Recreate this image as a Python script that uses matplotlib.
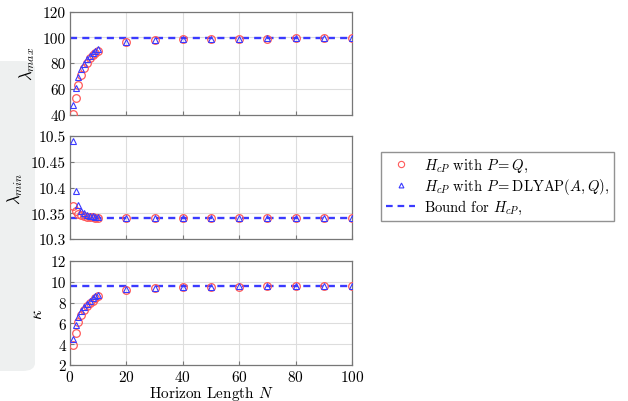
"""Eigenvalue bounds of H_cP vs horizon length N (three stacked panels)."""

import matplotlib
matplotlib.use("Agg")
import matplotlib.pyplot as plt
import matplotlib.patches as mpatches
from matplotlib.lines import Line2D
from matplotlib.ticker import FormatStrFormatter

plt.rcParams["font.family"] = "serif"
plt.rcParams["font.serif"] = ["cmr10", "DejaVu Serif"]
plt.rcParams["mathtext.fontset"] = "cm"
plt.rcParams["axes.formatter.use_mathtext"] = True

# -------------------------------------------------------------------
# Data
# -------------------------------------------------------------------
N = [1, 2, 3, 4, 5, 6, 7, 8, 9, 10, 20, 30, 40, 50, 60, 70, 80, 90, 100]
N_BOUND = [0, 100]

lmax_q = [40.5, 53, 63, 70.5, 76, 80, 83.5, 86, 88, 89.5,
          96, 97.6, 98.3, 98.6, 98.8, 99.0, 99.1, 99.2, 99.3]
lmax_dlyap = [47, 60.5, 69, 75, 79.5, 83, 85.5, 87.5, 89, 90.5,
              96.6, 98.0, 98.6, 98.9, 99.0, 99.1, 99.2, 99.3, 99.3]
lmax_bound = [99.5, 99.5]

lmin_q = [10.365, 10.355, 10.349, 10.346, 10.344, 10.343, 10.342, 10.342, 10.341, 10.341,
          10.3405, 10.3403, 10.3402, 10.3402, 10.3401, 10.3401, 10.3401, 10.3401, 10.3401]
lmin_dlyap = [10.490, 10.393, 10.366, 10.355, 10.350, 10.347, 10.345, 10.344, 10.343, 10.343,
              10.3410, 10.3405, 10.3403, 10.3402, 10.3402, 10.3401, 10.3401, 10.3401, 10.3401]
lmin_bound = [10.34, 10.34]

kappa_q = [3.9, 5.1, 6.1, 6.8, 7.3, 7.7, 8.0, 8.2, 8.45, 8.6,
           9.25, 9.4, 9.47, 9.5, 9.53, 9.55, 9.56, 9.57, 9.57]
kappa_dlyap = [4.5, 5.8, 6.6, 7.2, 7.6, 7.9, 8.15, 8.4, 8.6, 8.75,
               9.32, 9.45, 9.5, 9.53, 9.55, 9.56, 9.57, 9.58, 9.58]
kappa_bound = [9.6, 9.6]

PANELS = [
    (lmax_q, lmax_dlyap, lmax_bound, r"$\lambda_{max}$", (40, 120), [40, 60, 80, 100, 120]),
    (lmin_q, lmin_dlyap, lmin_bound, r"$\lambda_{min}$", (10.3, 10.5),
     [10.3, 10.35, 10.4, 10.45, 10.5]),
    (kappa_q, kappa_dlyap, kappa_bound, r"$\kappa$", (2, 12), [2, 4, 6, 8, 10, 12]),
]
X_TICKS = [0, 20, 40, 60, 80, 100]

RED = "#ff5a5a"
BLUE = "#3a3aff"
GRID = "#dddddd"
SPINE = "#777777"

W, H = 628, 402
# axes boxes in pixels: (top, bottom)
ROWS = [(12.5, 115.5), (137, 240), (262, 366)]
LEFT, RIGHT = 70, 352


def main():
    fig = plt.figure(figsize=(W / 100, H / 100), dpi=100)

    # light grey panel on the left edge (screenshot backdrop)
    band = mpatches.FancyBboxPatch(
        (-20 / W, 1 - 372 / H), 55 / W, 310 / H,
        boxstyle="round,pad=0,rounding_size=0.02",
        transform=fig.transFigure, facecolor="#eef0f0", edgecolor="none", zorder=-5)
    fig.patches.append(band)

    for i, (yq, yd, yb, ylabel, ylim, yticks) in enumerate(PANELS):
        top, bot = ROWS[i]
        ax = fig.add_axes([LEFT / W, 1 - bot / H, (RIGHT - LEFT) / W, (bot - top) / H])
        ax.grid(True, color=GRID, linewidth=0.8)
        ax.set_axisbelow(True)
        ax.plot(N_BOUND, yb, ls=(0, (3, 2.2)), color=BLUE, lw=1.7, zorder=2)
        ax.plot(N, yq, ls="none", marker="o", ms=5.5, mfc="none", mec=RED, mew=0.9, zorder=3)
        ax.plot(N, yd, ls="none", marker="^", ms=4.5, mfc="none", mec=BLUE, mew=0.8, zorder=4)
        ax.set_xlim(0, 100)
        ax.set_ylim(*ylim)
        ax.set_xticks(X_TICKS)
        ax.set_yticks(yticks)
        ax.yaxis.set_major_formatter(FormatStrFormatter("%g"))
        ax.tick_params(direction="in", length=3, color=SPINE, labelsize=11, pad=3)
        for s in ax.spines.values():
            s.set_color(SPINE)
            s.set_linewidth(0.9)
        ax.set_ylabel(ylabel, fontsize=12, labelpad=4)
        if i < 2:
            ax.tick_params(labelbottom=False)
        else:
            ax.set_xlabel(r"Horizon Length $N$", fontsize=11, labelpad=0)

    handles = [
        Line2D([], [], ls="none", marker="o", ms=4.5, mfc="none", mec=RED, mew=0.8),
        Line2D([], [], ls="none", marker="^", ms=3.5, mfc="none", mec=BLUE, mew=0.8),
        Line2D([], [], ls=(0, (3, 2.2)), color=BLUE, lw=1.6),
    ]
    labels = [
        r"$H_{cP}$ with $P = Q$,",
        r"$H_{cP}$ with $P = \mathrm{DLYAP}(A, Q)$,",
        r"Bound for $H_{cP}$,",
    ]
    fig.legend(handles, labels, loc="upper left",
               bbox_to_anchor=(381 / W, 1 - 152.5 / H), borderaxespad=0,
               fontsize=10.5, frameon=True, fancybox=False, edgecolor=SPINE,
               handlelength=2.0, handletextpad=0.6, labelspacing=0.15, borderpad=0.35)

    fig.savefig("out.png", dpi=100)


if __name__ == "__main__":
    main()
